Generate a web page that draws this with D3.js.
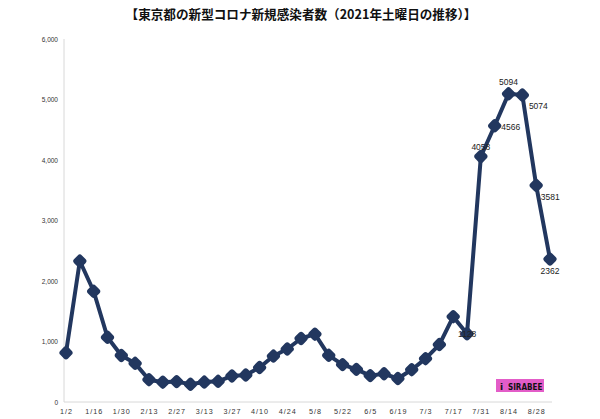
<!DOCTYPE html>
<html><head><meta charset="utf-8">
<script src="https://cdn.jsdelivr.net/npm/d3@7"></script>
<style>body{margin:0;background:#fff}svg{display:block}</style>
</head><body>
<script>
const title = "【東京都の新型コロナ新規感染者数（2021年土曜日の推移）】";
const dates = ["1/2","1/9","1/16","1/23","1/30","2/6","2/13","2/20","2/27","3/6","3/13","3/20","3/27","4/3","4/10","4/17","4/24","5/1","5/8","5/15","5/22","5/29","6/5","6/12","6/19","6/26","7/3","7/10","7/17","7/24","7/31","8/7","8/14","8/21","8/28","9/4"];
const cases = [814,2330,1830,1070,769,639,369,327,337,293,330,342,430,446,570,759,876,1050,1121,772,618,539,436,467,388,534,716,950,1410,1128,4058,4566,5094,5074,3581,2362];
const tickLabels = ["1/2","1/16","1/30","2/13","2/27","3/13","3/27","4/10","4/24","5/8","5/22","6/5","6/19","7/3","7/17","7/31","8/14","8/28"];
const yTicks = [0,1000,2000,3000,4000,5000,6000];
const labeled = {"7/24":[0,1,"1128"],"7/31":[0,-9,"4058"],"8/7":[16,2,"4566"],"8/14":[0,-11,"5094"],"8/21":[16,12,"5074"],"8/28":[14,12,"3581"],"9/4":[0,13,"2362"]};

const W=600,H=419;
const svg=d3.select("body").append("svg").attr("width",W).attr("height",H);
const x=d3.scalePoint().domain(dates).range([66,550]);
const y=d3.scaleLinear().domain([0,6000]).range([402,39]);
const navy="#22375f";

svg.append("text").attr("x",301).attr("y",19).attr("text-anchor","middle")
  .attr("font-family","'Noto Sans CJK JP'").attr("font-weight","bold").attr("font-size",12.6)
  .attr("fill","#111").text(title);

// axes
const ya=svg.append("g").attr("transform","translate(64,0)")
  .call(d3.axisLeft(y).tickValues(yTicks).tickSize(0).tickPadding(6).tickFormat(d3.format(",")));
ya.select(".domain").attr("stroke","#d8d8d8").attr("d","M0,39V402");
ya.selectAll("text").attr("font-family","'Liberation Sans'").attr("font-size",6.5).attr("fill","#333");

const xa=svg.append("g").attr("transform","translate(0,402)")
  .call(d3.axisBottom(x).tickValues(tickLabels).tickSize(0).tickPadding(7));
xa.select(".domain").attr("stroke","#d8d8d8").attr("d","M64,0H552");
xa.selectAll("text").attr("font-family","'Liberation Sans'").attr("font-size",7.2).attr("fill","#333").attr("letter-spacing","1px");

// line
const line=d3.line().x((d,i)=>x(dates[i])).y(d=>y(d));
svg.append("path").datum(cases).attr("d",line).attr("fill","none")
  .attr("stroke",navy).attr("stroke-width",4).attr("stroke-linejoin","round");
svg.selectAll("rect.m").data(cases).join("rect").attr("class","m")
  .attr("x",-5.5).attr("y",-5.5).attr("width",11).attr("height",11).attr("rx",3)
  .attr("fill",navy)
  .attr("transform",(d,i)=>`translate(${x(dates[i])},${y(d)}) rotate(45)`);

// data labels
svg.selectAll("text.lbl").data(dates.filter(d=>labeled[d])).join("text").attr("class","lbl")
  .attr("x",d=>x(d)+labeled[d][0]).attr("y",d=>y(cases[dates.indexOf(d)])+labeled[d][1])
  .attr("text-anchor","middle").attr("dominant-baseline","middle")
  .attr("font-family","'Liberation Sans'").attr("font-size",8.5).attr("fill","#222")
  .text(d=>labeled[d][2]);

// logo
const lg=svg.append("g").attr("transform","translate(496,379)");
lg.append("rect").attr("width",48).attr("height",13).attr("fill","#e35cc8");
lg.append("text").attr("x",4).attr("y",11).attr("font-family","'DejaVu Sans'").attr("font-weight","bold")
  .attr("font-size",9).attr("fill","#111").text("i");
lg.append("text").attr("x",12).attr("y",11).attr("font-family","'DejaVu Sans Condensed'").attr("font-weight","bold")
  .attr("font-size",8).attr("fill","#111").text("SIRABEE");
</script>
</body></html>
